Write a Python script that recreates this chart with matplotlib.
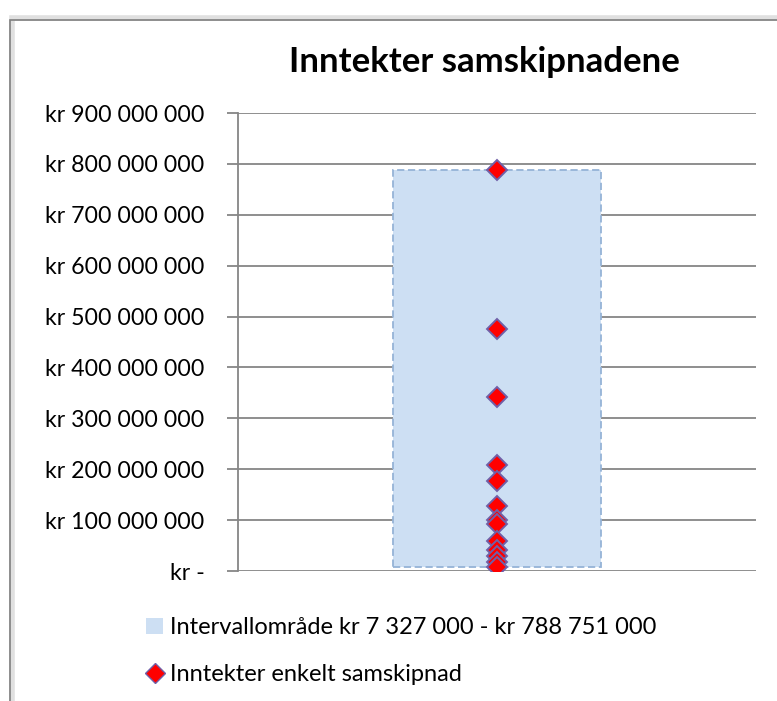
import numpy as np
import matplotlib.pyplot as plt
from matplotlib.patches import Rectangle, Patch
from matplotlib.lines import Line2D
from matplotlib.ticker import FuncFormatter

plt.rcParams['font.family'] = ['Lato', 'DejaVu Sans']

# Inntekter per samskipnad (kr), lest av figuren
inntekter = [788751000, 475000000, 342000000, 208000000, 177000000, 128000000,
             100000000, 92000000, 58000000, 41000000, 29000000, 18000000, 7327000]
lav = 7327000
hoy = 788751000
y_ticks = np.arange(0, 900000001, 100000000)


def kr_fmt(v, pos):
    if v == 0:
        return 'kr -'
    return 'kr ' + f'{int(v):,}'.replace(',', ' ')


W, H = 777, 701
fig = plt.figure(figsize=(W / 100, H / 100), dpi=100)

# chart frame with a faint shadow
fig.patches.append(Rectangle((12 / W, -0.05), 1.1, (H - 18) / H + 0.05,
                             transform=fig.transFigure, fill=False,
                             edgecolor='#e0e0e0', linewidth=4))
fig.patches.append(Rectangle((10 / W, -0.05), 1.1, (H - 20) / H + 0.05,
                             transform=fig.transFigure, fill=False,
                             edgecolor='#7f7f7f', linewidth=1.2))

ax = fig.add_axes([238 / W, (H - 571) / H, (756 - 238) / W, (571 - 113) / H])

ax.bar(0.5, hoy - lav, bottom=lav, width=0.4, color='#cddff3',
       edgecolor='#95b3d7', linestyle=(0, (4, 2)), linewidth=1.3, zorder=2)
ax.plot(np.full(len(inntekter), 0.5), inntekter, linestyle='none', marker='D',
        markersize=10, markerfacecolor='#ff0000', markeredgecolor='#7060a8',
        markeredgewidth=1.4, zorder=3)

ax.set_xlim(0, 1)
ax.set_ylim(0, 900000000)
ax.set_yticks(y_ticks)
ax.yaxis.set_major_formatter(FuncFormatter(kr_fmt))
ax.set_xticks([])
ax.grid(axis='y', color='#868686', linewidth=1.3, zorder=1)
ax.set_axisbelow(True)
for s in ['top', 'right', 'bottom']:
    ax.spines[s].set_visible(False)
ax.spines['left'].set_color('#868686')
ax.spines['left'].set_linewidth(1.3)
ax.tick_params(axis='y', length=8, width=1.3, color='#868686', labelsize=16.7, pad=16)

fig.text(484 / W, (H - 62) / H, 'Inntekter samskipnadene', ha='center', va='center',
         fontsize=25, fontweight='bold')

handles = [Patch(facecolor='#cddff3', edgecolor='none'),
           Line2D([], [], linestyle='none', marker='D', markersize=10,
                  markerfacecolor='#ff0000', markeredgecolor='#7060a8')]
labels = ['Intervallområde kr 7 327 000 - kr 788 751 000', 'Inntekter enkelt samskipnad']
fig.legend(handles, labels, loc='upper left', bbox_to_anchor=(137 / W, (H - 608) / H),
           frameon=False, fontsize=17, handlelength=0.7, handleheight=0.7,
           handletextpad=0.3, labelspacing=1.1, borderaxespad=0)

fig.savefig('out.png', dpi=100)
